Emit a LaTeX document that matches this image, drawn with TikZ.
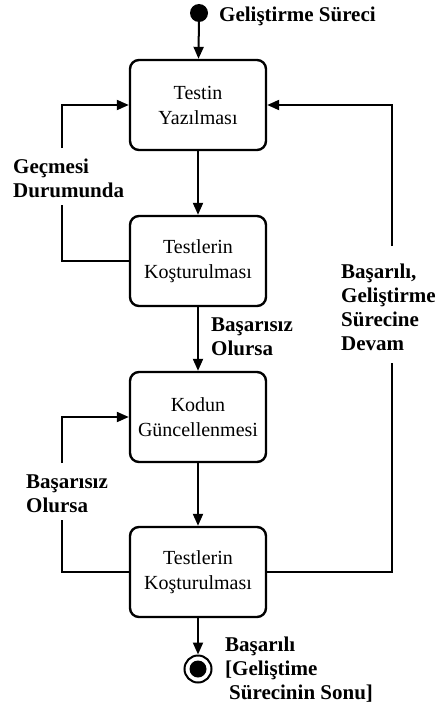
\documentclass[tikz,border=0pt]{standalone}
\usepackage{fontspec}
\setmainfont{Liberation Serif}
\usepackage{tikz}
\usetikzlibrary{arrows.meta,calc}

\begin{document}
\begin{tikzpicture}[x=1pt,y=-1pt,
  state/.style={draw,line width=2.4pt,rounded corners=9pt,minimum width=136pt,
    minimum height=90pt,align=center,font=\fontsize{20}{25}\selectfont},
  cond/.style={align=left,anchor=west,inner sep=0pt,font=\fontsize{21}{24}\selectfont\bfseries},
  flow/.style={line width=2pt,-{Triangle[length=12pt,width=10pt]}},
  wire/.style={line width=2pt}]
  \useasboundingbox (0,0) rectangle (438,709);
  \node[circle,fill,inner sep=0pt,minimum size=18pt] (start) at (199,13) {};
  \node[cond] (basla) at (219,16) {Geliştirme Süreci};
  \node[state] (yaz) at (198,105) {Testin\\Yazılması};
  \node[state] (kos1) at (198,261) {Testlerin\\Koşturulması};
  \node[state] (gun) at (198,417) {Kodun\\Güncellenmesi};
  \node[state] (kos2) at (198,572) {Testlerin\\Koşturulması};
  \node[circle,draw,line width=2pt,inner sep=0pt,minimum size=27pt] (stop) at (198,669) {};
  \node[circle,fill,inner sep=0pt,minimum size=17pt] (stopdot) at (stop) {};
  \node[cond] (gecme) at (13,178) {Geçmesi\\Durumunda};
  \node[cond] (hata1) at (211,337) {Başarısız\\Olursa};
  \node[cond] (hata2) at (26,494) {Başarısız\\Olursa};
  \node[cond] (devam) at (341,307) {Başarılı,\\Geliştirme\\Sürecine\\Devam};
  \node[cond] (son) at (225,670) {Başarılı\\{}[Geliştime\\\hspace{4pt}Sürecinin Sonu]};
  \coordinate (g1a) at (62,205);
  \coordinate (g1b) at (62,148);
  \coordinate (g2a) at (62,520);
  \coordinate (g2b) at (62,463);
  \coordinate (d1) at (392,363);
  \coordinate (d2) at (392,246);
  \draw[flow] (start) -- (yaz);
  \draw[flow] (yaz) -- (kos1);
  \draw[flow] (kos1) -- (gun);
  \draw[flow] (gun) -- (kos2);
  \draw[flow] (kos2) -- (stop);
  \draw[wire] (kos1.west) -| (g1a);
  \draw[flow] (g1b) |- (yaz.west);
  \draw[wire] (kos2.west) -| (g2a);
  \draw[flow] (g2b) |- (gun.west);
  \draw[wire] (kos2.east) -| (d1);
  \draw[flow] (d2) |- (yaz.east);
\end{tikzpicture}
\end{document}
